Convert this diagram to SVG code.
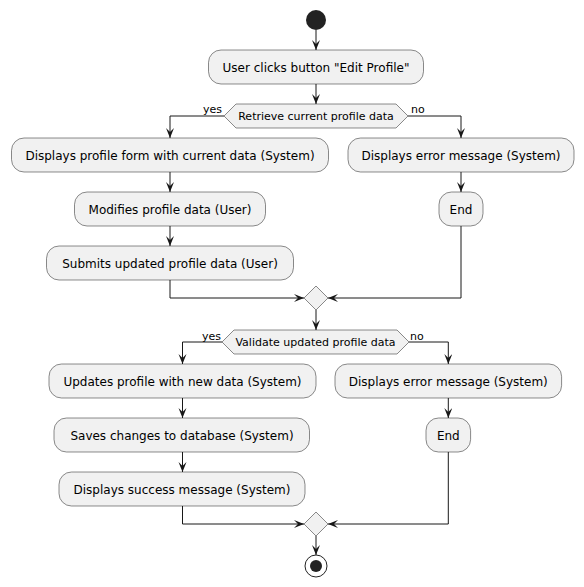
<svg xmlns="http://www.w3.org/2000/svg" width="584" height="587" viewBox="0 0 584 587">
<style>
.box{fill:#F1F1F1;stroke:#181818;stroke-width:0.5}
.t{font-family:"DejaVu Sans",sans-serif;font-size:12px;fill:#000;text-anchor:middle}
.d{font-family:"DejaVu Sans",sans-serif;font-size:11px;fill:#000;text-anchor:middle}
.l{font-family:"DejaVu Sans",sans-serif;font-size:11px;fill:#000}
.c{fill:none;stroke:#181818;stroke-width:1}
</style>
<defs>
<marker id="ah" markerUnits="userSpaceOnUse" markerWidth="12" markerHeight="10" refX="10" refY="4" orient="auto">
<path d="M0,0 L10,4 L0,8 L4,4 Z" fill="#181818"/>
</marker>
</defs>
<rect width="584" height="587" fill="#FFFFFF"/>
<g id="connectors">
<path class="c" d="M316,30 L316,50" marker-end="url(#ah)"/>
<path class="c" d="M316,84 L316,104" marker-end="url(#ah)"/>
<path class="c" d="M224,116 L170,116 L170,138" marker-end="url(#ah)"/>
<path class="c" d="M408,116 L461,116 L461,138" marker-end="url(#ah)"/>
<path class="c" d="M170,172 L170,192" marker-end="url(#ah)"/>
<path class="c" d="M170,226 L170,246" marker-end="url(#ah)"/>
<path class="c" d="M461,172 L461,192" marker-end="url(#ah)"/>
<path class="c" d="M170,280 L170,298 L304,298" marker-end="url(#ah)"/>
<path class="c" d="M461,226 L461,298 L328,298" marker-end="url(#ah)"/>
<path class="c" d="M316,310 L316,330" marker-end="url(#ah)"/>
<path class="c" d="M222,342 L182.5,342 L182.5,364" marker-end="url(#ah)"/>
<path class="c" d="M409,342 L448.3,342 L448.3,364" marker-end="url(#ah)"/>
<path class="c" d="M182.5,398 L182.5,418" marker-end="url(#ah)"/>
<path class="c" d="M182.5,452 L182.5,472" marker-end="url(#ah)"/>
<path class="c" d="M448.3,398 L448.3,418" marker-end="url(#ah)"/>
<path class="c" d="M182.5,506 L182.5,524 L304,524" marker-end="url(#ah)"/>
<path class="c" d="M448.3,452 L448.3,524 L328,524" marker-end="url(#ah)"/>
<path class="c" d="M316,536 L316,555" marker-end="url(#ah)"/>
<text class="l" x="222" y="113" text-anchor="end">yes</text>
<text class="l" x="411" y="113">no</text>
<text class="l" x="221" y="339.5" text-anchor="end">yes</text>
<text class="l" x="410" y="339.5">no</text>
</g>
<g id="start"><circle cx="316" cy="20" r="10" fill="#222222"/></g>
<g id="n1"><rect class="box" x="208.5" y="50" width="215" height="34" rx="12.5"/><text class="t" x="316" y="71.5">User clicks button "Edit Profile"</text></g>
<g id="d1"><polygon class="box" points="224,116 236,104 396,104 408,116 396,128 236,128"/><text class="d" x="316" y="120">Retrieve current profile data</text></g>
<g id="n2"><rect class="box" x="11.5" y="138" width="317" height="34" rx="12.5"/><text class="t" x="170" y="159.5">Displays profile form with current data (System)</text></g>
<g id="n3"><rect class="box" x="74.5" y="192" width="191" height="34" rx="12.5"/><text class="t" x="170" y="213.5">Modifies profile data (User)</text></g>
<g id="n4"><rect class="box" x="46.5" y="246" width="247" height="34" rx="12.5"/><text class="t" x="170" y="267.5">Submits updated profile data (User)</text></g>
<g id="n5"><rect class="box" x="348" y="138" width="226" height="34" rx="12.5"/><text class="t" x="461" y="159.5">Displays error message (System)</text></g>
<g id="n6"><rect class="box" x="439" y="192" width="44" height="34" rx="12.5"/><text class="t" x="461" y="213.5">End</text></g>
<g id="m1"><polygon class="box" points="304,298 316,286 328,298 316,310"/></g>
<g id="d2"><polygon class="box" points="222,342 234,330 397,330 409,342 397,354 234,354"/><text class="d" x="315.5" y="346">Validate updated profile data</text></g>
<g id="n7"><rect class="box" x="49" y="364" width="267" height="34" rx="12.5"/><text class="t" x="182.5" y="385.5">Updates profile with new data (System)</text></g>
<g id="n8"><rect class="box" x="54" y="418" width="255.5" height="34" rx="12.5"/><text class="t" x="182" y="439.5">Saves changes to database (System)</text></g>
<g id="n9"><rect class="box" x="59" y="472" width="246" height="34" rx="12.5"/><text class="t" x="182" y="493.5">Displays success message (System)</text></g>
<g id="n10"><rect class="box" x="335" y="364" width="226.6" height="34" rx="12.5"/><text class="t" x="448.3" y="385.5">Displays error message (System)</text></g>
<g id="n11"><rect class="box" x="426" y="418" width="44.6" height="34" rx="12.5"/><text class="t" x="448.3" y="439.5">End</text></g>
<g id="m2"><polygon class="box" points="304,524 316,512 328,524 316,536"/></g>
<g id="end"><circle cx="316" cy="566" r="11" fill="none" stroke="#222222" stroke-width="1"/><circle cx="316" cy="566" r="6" fill="#222222"/></g>
</svg>
